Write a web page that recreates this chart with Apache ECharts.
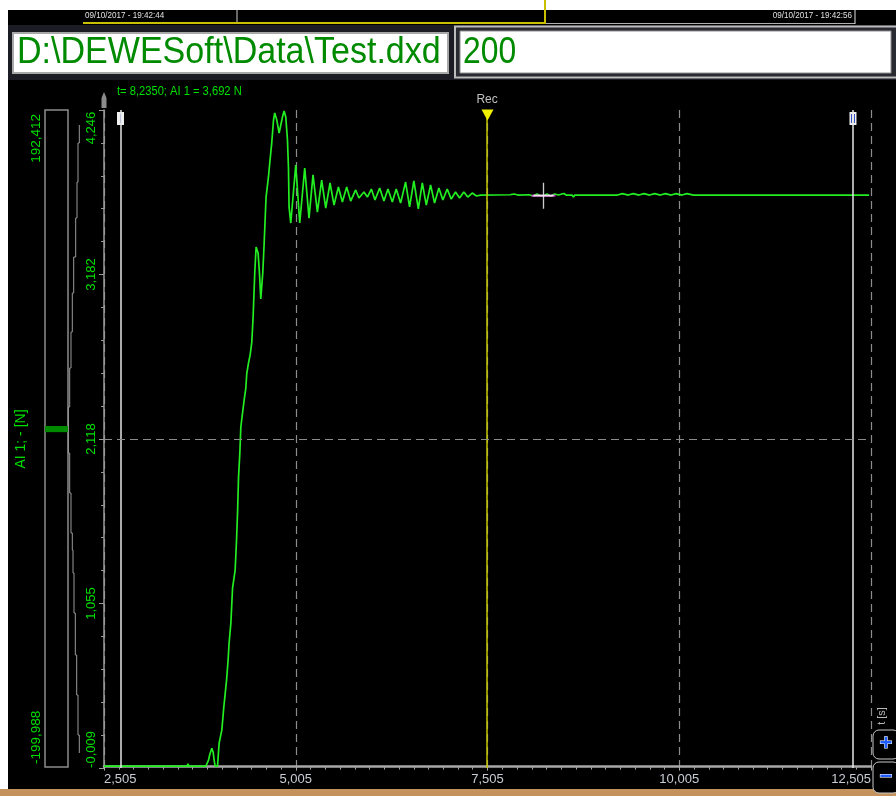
<!DOCTYPE html>
<html><head><meta charset="utf-8">
<script src="https://cdn.jsdelivr.net/npm/echarts@6/dist/echarts.min.js"></script>
<style>html,body{margin:0;padding:0;background:#fff;}#c{width:896px;height:796px;}</style>
</head><body><div id="c"></div>
<script>
// ---- data ----
const timeS = [2.505, 2.690, 2.700, 2.712, 3.000, 3.013, 3.025, 3.590, 3.599, 3.610,
 3.833, 3.868, 3.885, 3.911, 3.928, 3.941, 3.954, 3.985, 4.006, 4.041,
 4.067, 4.103, 4.123, 4.136, 4.159, 4.181, 4.215, 4.233, 4.246, 4.259,
 4.276, 4.289, 4.311, 4.332, 4.354, 4.367, 4.389, 4.410, 4.432, 4.449,
 4.471, 4.488, 4.514, 4.532, 4.549, 4.575, 4.592, 4.618, 4.649, 4.670,
 4.692, 4.715, 4.731, 4.758, 4.788, 4.810, 4.832, 4.853, 4.875, 4.897,
 4.910, 4.918, 4.940, 4.966, 5.005, 5.057, 5.122, 5.178, 5.230, 5.287,
 5.343, 5.396, 5.452, 5.504, 5.561, 5.613, 5.669, 5.721, 5.786, 5.829,
 5.894, 5.939, 5.991, 6.038, 6.099, 6.155, 6.207, 6.264, 6.315, 6.372,
 6.437, 6.489, 6.545, 6.603, 6.655, 6.707, 6.763, 6.815, 6.871, 6.923,
 6.980, 7.032, 7.088, 7.141, 7.196, 7.248, 7.306, 7.362, 7.414, 7.800,
 7.850, 7.900, 8.050, 8.100, 8.150, 8.200, 8.235, 8.280, 8.330, 8.380,
 8.430, 8.500, 8.530, 8.610, 8.625, 8.645, 9.200, 9.205, 9.265, 9.270,
 9.340, 9.345, 9.405, 9.410, 9.480, 9.485, 9.545, 9.550, 9.620, 9.625,
 9.685, 9.690, 9.760, 9.765, 9.825, 9.830, 9.900, 9.905, 9.965, 9.970,
 10.040, 10.045, 10.105, 10.110, 10.190, 12.480];
const forceN = [0.003, 0.003, 0.015, 0.003, 0.003, 0.015, 0.003, 0.003, 0.018, 0.003,
 0.003, 0.042, 0.080, 0.119, 0.093, 0.042, 0.003, 0.003, 0.152, 0.236,
 0.385, 0.559, 0.689, 0.799, 0.928, 1.154, 1.271, 1.465, 1.639, 1.872,
 2.027, 2.196, 2.286, 2.370, 2.448, 2.545, 2.610, 2.661, 2.745, 2.907,
 3.198, 3.360, 3.321, 3.192, 3.024, 3.192, 3.373, 3.683, 3.813, 3.923,
 4.033, 4.181, 4.227, 4.181, 4.097, 4.104, 4.201, 4.240, 4.201, 4.052,
 3.871, 3.619, 3.515, 3.664, 3.890, 3.515, 3.871, 3.547, 3.826, 3.586,
 3.793, 3.612, 3.774, 3.631, 3.748, 3.651, 3.748, 3.657, 3.729, 3.677,
 3.716, 3.683, 3.735, 3.664, 3.741, 3.657, 3.735, 3.651, 3.735, 3.644,
 3.780, 3.619, 3.787, 3.606, 3.774, 3.631, 3.761, 3.644, 3.741, 3.664,
 3.735, 3.670, 3.716, 3.677, 3.716, 3.683, 3.709, 3.690, 3.696, 3.698,
 3.703, 3.696, 3.698, 3.690, 3.703, 3.692, 3.692, 3.703, 3.690, 3.703,
 3.696, 3.706, 3.696, 3.696, 3.683, 3.696, 3.696, 3.705, 3.705, 3.696,
 3.696, 3.705, 3.705, 3.696, 3.696, 3.705, 3.705, 3.696, 3.696, 3.705,
 3.705, 3.696, 3.696, 3.705, 3.705, 3.696, 3.696, 3.705, 3.705, 3.696,
 3.696, 3.705, 3.705, 3.696, 3.696, 3.696];

const xTickValues = [2.505, 5.005, 7.505, 10.005, 12.505];
const xTickLabels = ['2,505', '5,005', '7,505', '10,005', '12,505'];
const yTickValues = [-0.009, 1.055, 2.118, 3.182, 4.246];
const yTickLabels = ['-0,009', '1,055', '2,118', '3,182', '4,246'];
const recTime = 7.505;
const markerTimes = [2.72, 12.27];
const cursorTime = 8.235;
const cursorValue = 3.692;
const meterRange = [-199.988, 192.412];
const meterLabels = ['-199,988', '192,412'];
const fileName = 'D:\\DEWESoft\\Data\\Test.dxd';
const boxValue = '200';
const startStamp = '09/10/2017 - 19:42:44';
const endStamp = '09/10/2017 - 19:42:56';
const channelName = 'AI 1; - [N]';
const channelShort = 'AI 1';
const unitName = 'N';
const xAxisName = 't [s]';

// ---- drawing ----
const FONT = 'Liberation Sans, Arial, sans-serif';
const GREEN_TXT = '#00e000';
const chart = echarts.init(document.getElementById('c'));
const yMin = yTickValues[0], yMax = yTickValues[yTickValues.length - 1];
const yStep = (yMax - yMin) / (yTickValues.length - 1);
const xMin = xTickValues[0], xMax = xTickValues[xTickValues.length - 1];
const xStep = xTickValues[1] - xTickValues[0];
function idxOf(vals, v) { for (let i = 0; i < vals.length; i++) if (Math.abs(vals[i] - v) < 0.01) return i; return -1; }
const signal = timeS.map((t, i) => [t, forceN[i]]);
const comma = (v, d) => v.toFixed(d).replace('.', ',');
const cursorText = 't= ' + comma(cursorTime, 4) + '; ' + channelShort + ' = ' + comma(cursorValue, 3) + ' ' + unitName;

const stepPts = [[79.3,125],[79.3,143],[78,143],[78,182],[77,182],[77,218],[75.7,218],[75.7,257],[73.7,257],[73.7,293],[72.3,293],[72.3,332],[71,332],[71,368],[69.7,368],[69.7,407],[68.3,407],[68.3,453],[69.7,453],[69.7,493],[71,493],[71,533],[72.3,533],[72.3,550],[73,550],[73,573],[74,573],[74,613],[75.3,613],[75.3,655],[76.7,655],[76.7,695],[78,695],[78,735],[79.3,735],[79.3,753]];

const staticGraphics = [
  {id:'topWhite', type:'rect', shape:{x:0,y:0,width:896,height:10}, style:{fill:'#fff'}},
  {id:'leftWhite', type:'rect', shape:{x:0,y:0,width:8,height:790}, style:{fill:'#fff'}},
  {id:'bottomStrip', type:'rect', shape:{x:0,y:789,width:896,height:7}, style:{fill:'#c4925c'}},
  {id:'tsep1', type:'line', shape:{x1:237,y1:10,x2:237,y2:22}, style:{stroke:'#d0d0d0',lineWidth:1}},
  {id:'tgrey', type:'line', shape:{x1:546,y1:23.5,x2:855,y2:23.5}, style:{stroke:'#b0b0b0',lineWidth:1}},
  {id:'tsep2', type:'line', shape:{x1:855,y1:10,x2:855,y2:24}, style:{stroke:'#e0e0e0',lineWidth:1}},
  {id:'tyellow', type:'polyline', shape:{points:[[83,23],[545,23],[545,0]]}, style:{stroke:'#c8c000',lineWidth:2,fill:null}},
  {id:'ts1', type:'text', x:85, y:16, scaleX:0.9, style:{text:startStamp, fill:'#e0e0e0', font:'9px ' + FONT, verticalAlign:'middle'}},
  {id:'ts2', type:'text', x:852, y:16, scaleX:0.9, style:{text:endStamp, fill:'#e0e0e0', font:'9px ' + FONT, align:'right', verticalAlign:'middle'}},
  {id:'panel', type:'rect', shape:{x:8,y:25,width:888,height:55}, style:{fill:'#1c1c24'}},
  {id:'box1', type:'rect', shape:{x:13,y:33,width:435,height:40}, style:{fill:'#fff', stroke:'#a8a8a8', lineWidth:2}},
  {id:'box2o', type:'rect', shape:{x:455,y:26.5,width:445,height:51}, style:{fill:'#2a2a33', stroke:'#bcbcbc', lineWidth:2}},
  {id:'box2', type:'rect', shape:{x:460,y:31,width:431,height:42}, style:{fill:'#fff', stroke:'#909090', lineWidth:1}},
  {id:'fileTxt', type:'text', x:17, y:53, scaleX:0.92, style:{text:fileName, fill:'#008a00', font:'37px ' + FONT, verticalAlign:'middle'}},
  {id:'valTxt', type:'text', x:463, y:53, scaleX:0.86, style:{text:boxValue, fill:'#008a00', font:'37px ' + FONT, verticalAlign:'middle'}},
  {id:'info', type:'text', x:117, y:92, scaleX:0.93, style:{text:cursorText, fill:GREEN_TXT, font:'12px ' + FONT, verticalAlign:'middle'}},
  {id:'pin', type:'polygon', shape:{points:[[101.5,108],[106.5,108],[106.5,98],[104,92],[101.5,98]]}, style:{fill:'#8c8c8c'}},
  {id:'chan', type:'text', x:21, y:439, rotation:Math.PI/2, style:{text:channelName, fill:GREEN_TXT, font:'14px ' + FONT, align:'center', verticalAlign:'middle'}},
  {id:'mTop', type:'text', x:36, y:114, rotation:Math.PI/2, style:{text:meterLabels[1], fill:GREEN_TXT, font:'13.5px ' + FONT, align:'right', verticalAlign:'middle'}},
  {id:'mBot', type:'text', x:36, y:764, rotation:Math.PI/2, style:{text:meterLabels[0], fill:GREEN_TXT, font:'13.5px ' + FONT, align:'left', verticalAlign:'middle'}},
  {id:'steps', type:'polyline', shape:{points:stepPts}, style:{stroke:'#9a9a9a', lineWidth:1, fill:null}},
  {id:'tname', type:'text', x:882, y:716, rotation:Math.PI/2, style:{text:xAxisName, fill:'#b8b8b8', font:'11px ' + FONT, align:'center', verticalAlign:'middle'}},
  {id:'bPlus', type:'rect', shape:{x:873,y:730,width:26,height:29,r:6}, style:{fill:'#000', stroke:'#c8c8c8', lineWidth:1}},
  {id:'bMinus', type:'rect', shape:{x:873,y:762,width:26,height:31,r:6}, style:{fill:'#000', stroke:'#c8c8c8', lineWidth:1}},
  {id:'plus', type:'text', x:886, y:744, style:{text:'+', fill:'#1f5cff', stroke:'#ffffff', lineWidth:1, font:'bold 22px ' + FONT, align:'center', verticalAlign:'middle'}},
  {id:'minus', type:'text', x:886, y:777, style:{text:'\u2212', fill:'#1f5cff', stroke:'#ffffff', lineWidth:1, font:'bold 22px ' + FONT, align:'center', verticalAlign:'middle'}}
];

const option = {
  animation: false,
  backgroundColor: '#000',
  graphic: { elements: staticGraphics },
  grid: [
    { left: 104, top: 110, width: 767, height: 658, containLabel: false },
    { left: 45, top: 110, width: 23, height: 657, show: true, borderColor: '#8c8c8c', borderWidth: 1.5, backgroundColor: 'transparent' }
  ],
  xAxis: [
    { type: 'value', gridIndex: 0, min: xMin, max: xMax, interval: xStep,
      axisLine: { show: true, lineStyle: { color: '#a8a8a8', width: 2.5 } },
      axisTick: { show: true, length: 4, lineStyle: { color: '#a8a8a8' } },
      minorTick: { show: true, splitNumber: 13, length: 3, lineStyle: { color: '#a0a0a0' } },
      splitLine: { show: true, lineStyle: { color: '#8c8c8c', type: [8, 5], width: 1.2 } },
      axisLabel: { color: '#c8ccd4', fontSize: 13, fontFamily: FONT, margin: 5,
        alignMinLabel: 'left', alignMaxLabel: 'right',
        formatter: v => { const i = idxOf(xTickValues, v); return i < 0 ? '' : xTickLabels[i]; } } },
    { type: 'category', gridIndex: 1, data: [channelShort], show: false }
  ],
  yAxis: [
    { type: 'value', gridIndex: 0, min: yMin, max: yMax, interval: yStep,
      axisLine: { show: true, lineStyle: { color: '#9a9a9a', width: 1.5 } },
      axisTick: { show: true, length: 5, lineStyle: { color: '#9a9a9a' } },
      minorTick: { show: true, splitNumber: 5, length: 3, lineStyle: { color: '#9a9a9a' } },
      splitLine: { show: false },
      axisLabel: { color: GREEN_TXT, fontSize: 13, fontFamily: FONT, rotate: 90, margin: 6,
        formatter: v => { const i = idxOf(yTickValues, v); if (i < 0) return '';
          if (i === 0) return '{lo|' + yTickLabels[i] + '}';
          if (i === yTickValues.length - 1) return '{hi|' + yTickLabels[i] + '}';
          return yTickLabels[i]; },
        rich: { lo: { padding: [0, 0, 0, 37], color: GREEN_TXT, fontSize: 13, fontFamily: FONT },
                hi: { padding: [0, 36, 0, 0], color: GREEN_TXT, fontSize: 13, fontFamily: FONT } } } },
    { type: 'value', gridIndex: 1, min: meterRange[0], max: meterRange[1], show: false, splitLine: { show: false } }
  ],
  series: [
    { type: 'line', xAxisIndex: 0, yAxisIndex: 0, data: signal, showSymbol: false, symbol: 'none',
      lineStyle: { color: '#22ee22', width: 1.7 }, z: 3,
      markLine: { silent: true, symbol: ['none', 'none'], animation: false,
        data: [
          { xAxis: recTime, lineStyle: { color: '#c8c800', width: 1.5, type: 'solid' },
            label: { show: true, formatter: 'Rec', position: 'end', color: '#c0c0c0', fontSize: 12, fontFamily: FONT, distance: 4 } },
          { xAxis: markerTimes[0], lineStyle: { color: '#e6e6e6', width: 1.5, type: 'solid' }, label: { show: false } },
          { xAxis: markerTimes[1], lineStyle: { color: '#e6e6e6', width: 1.5, type: 'solid' }, label: { show: false } },
          { yAxis: yTickValues[2], lineStyle: { color: '#8c8c8c', width: 1.2, type: [8, 5] }, label: { show: false } },
          { yAxis: yMax, lineStyle: { color: '#8c8c8c', width: 1.5, type: 'solid' }, label: { show: false } }
        ] },
      markPoint: { silent: true, animation: false, label: { show: false },
        data: [ { coord: [recTime, yMax], symbol: 'triangle', symbolRotate: 180, symbolSize: [12, 11], symbolOffset: [0, 5], itemStyle: { color: '#f0f000' } } ] } },
    { type: 'scatter', xAxisIndex: 0, yAxisIndex: 0, data: [[cursorTime, cursorValue]], symbol: 'rect', symbolSize: [24, 2],
      itemStyle: { color: '#ff40ff' }, z: 5, silent: true },
    { type: 'scatter', xAxisIndex: 0, yAxisIndex: 0, data: [[cursorTime, cursorValue]],
      symbol: 'path://M10,0 L10,26 M0,13 L20,13', symbolSize: [20, 26],
      itemStyle: { color: 'none', borderColor: '#ffffff', borderWidth: 1.5 }, z: 6, silent: true },
    { type: 'bar', xAxisIndex: 1, yAxisIndex: 1, data: [cursorValue], barWidth: '100%',
      itemStyle: { color: '#008a00' }, silent: true }
  ]
};
chart.setOption(option);

// small marker flags on top of the two region marker lines
const flagEls = markerTimes.map((t, i) => {
  const px = chart.convertToPixel({ xAxisIndex: 0 }, t);
  return { id: 'flag' + i, type: 'group', children: [
    { type: 'rect', shape: { x: px - 3.5, y: 112, width: 7, height: 13 }, style: { fill: '#f0f0f0' } },
    { type: 'line', shape: { x1: px - (i ? 1.5 : 0), y1: 114, x2: px - (i ? 1.5 : 0), y2: 123 }, style: { stroke: '#3050c0', lineWidth: 1 } },
    ...(i ? [{ type: 'line', shape: { x1: px + 1.5, y1: 114, x2: px + 1.5, y2: 123 }, style: { stroke: '#3050c0', lineWidth: 1 } }] : [])
  ] };
});
chart.setOption({ graphic: { elements: staticGraphics.concat(flagEls) } });
</script></body></html>
